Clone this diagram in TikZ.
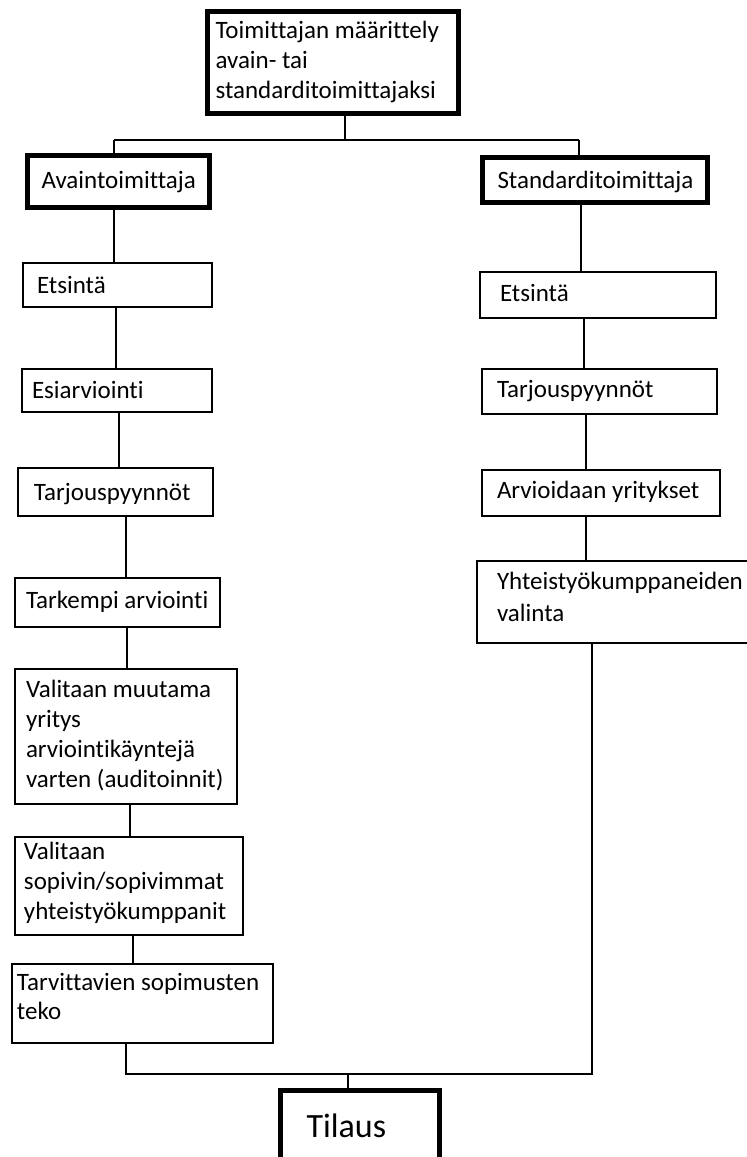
\documentclass[tikz,border=0pt]{standalone}
\usepackage{fontspec}
\setmainfont{Carlito}[Ligatures=NoCommon]
\newcommand\bx[6]{\vbox to #2{\hsize=#1\relax\baselineskip=#5\relax\lineskiplimit=-100pt\relax\parindent=0pt\leftskip=#3\relax\rightskip=0pt plus 1fil\relax\parfillskip=0pt plus 1fil\relax\hfuzz=200pt\hbadness=10000\noindent\rule{0pt}{#4}#6\par\vfil}}
\tikzset{
  box/.style={draw=black, line width=1.3pt, anchor=north west, inner sep=0pt, outer sep=0pt, font=\fontsize{25}{30}\selectfont},
  thickbox/.style={box, line width=5pt},
  conn/.style={draw=black, line width=1.3pt}
}
\begin{document}
\begin{tikzpicture}[x=1pt,y=-1pt]
\clip (0,0) rectangle (747,1157);
\fill[white] (0,0) rectangle (747,1157);
% boxes
\node[thickbox] (top) at (207.5,11.5) {\bx{251pt}{102pt}{8pt}{26.5pt}{30pt}{Toimittajan määrittely\\avain- tai\\standarditoimittajaksi}};
\node[thickbox] (av) at (27.5,155.5) {\bx{182pt}{52pt}{14pt}{32.5pt}{30pt}{Avaintoimittaja}};
\node[thickbox] (st) at (482.5,157.5) {\bx{225pt}{45pt}{15pt}{30.5pt}{30pt}{Standarditoimittaja}};
\node[box] (e1) at (23,263) {\bx{189pt}{44pt}{14pt}{30pt}{30pt}{Etsintä}};
\node[box] (e2) at (22,369) {\bx{190pt}{43pt}{10pt}{29pt}{30pt}{Esiarviointi}};
\node[box] (e3) at (18,468) {\bx{195pt}{48pt}{16pt}{32pt}{30pt}{Tarjouspyynnöt}};
\node[box] (e4) at (15,578) {\bx{205pt}{49pt}{11pt}{30pt}{30pt}{Tarkempi arviointi}};
\node[box] (e5) at (15,669) {\bx{222pt}{135pt}{11pt}{28pt}{30pt}{Valitaan muutama\\yritys\\arviointikäyntejä\\varten (auditoinnit)}};
\node[box] (e6) at (15,837) {\bx{228pt}{98pt}{9pt}{22pt}{30pt}{Valitaan\\sopivin/sopivimmat\\yhteistyökumppanit}};
\node[box] (e7) at (12,964) {\bx{261pt}{79pt}{5pt}{26pt}{29pt}{Tarvittavien sopimusten\\teko}};
\node[box] (r1) at (480,272) {\bx{236pt}{46pt}{20pt}{29pt}{30pt}{Etsintä}};
\node[box] (r2) at (482,369) {\bx{235pt}{45pt}{15pt}{28pt}{30pt}{Tarjouspyynnöt}};
\node[box] (r3) at (482,470) {\bx{238pt}{46pt}{15pt}{28pt}{30pt}{Arvioidaan yritykset}};
\node[box] (r4) at (477,561) {\bx{300pt}{82pt}{20pt}{28pt}{32pt}{Yhteistyökumppaneiden\\valinta}};
\node[thickbox, font=\fontsize{34}{40}\selectfont] (ti) at (280.5,1090.5) {\bx{159pt}{95pt}{26pt}{46.5pt}{40pt}{Tilaus}};
% junctions
\coordinate (jT) at (345,140);
\coordinate (jL) at (114,140);
\coordinate (jR) at (579,140);
\coordinate (bL) at (126,1074);
\coordinate (bR) at (592,1074);
\coordinate (bM) at (348,1074);
% connectors
\draw[conn] (jT |- top.south) -- (jT);
\draw[conn] (jL) -- (jR);
\draw[conn] (jL) -- (jL |- av.north);
\draw[conn] (jR) -- (jR |- st.north);
\draw[conn] (114,0 |- av.south) -- (114,0 |- e1.north);
\draw[conn] (116,0 |- e1.south) -- (116,0 |- e2.north);
\draw[conn] (119,0 |- e2.south) -- (119,0 |- e3.north);
\draw[conn] (126,0 |- e3.south) -- (126,0 |- e4.north);
\draw[conn] (127,0 |- e4.south) -- (127,0 |- e5.north);
\draw[conn] (130,0 |- e5.south) -- (130,0 |- e6.north);
\draw[conn] (133,0 |- e6.south) -- (133,0 |- e7.north);
\draw[conn] (bL |- e7.south) -- (bL) -- (bR) -- (bR |- r4.south);
\draw[conn] (581,0 |- st.south) -- (581,0 |- r1.north);
\draw[conn] (584,0 |- r1.south) -- (584,0 |- r2.north);
\draw[conn] (586,0 |- r2.south) -- (586,0 |- r3.north);
\draw[conn] (586,0 |- r3.south) -- (586,0 |- r4.north);
\draw[conn] (bM) -- (bM |- ti.north);
\end{tikzpicture}
\end{document}
